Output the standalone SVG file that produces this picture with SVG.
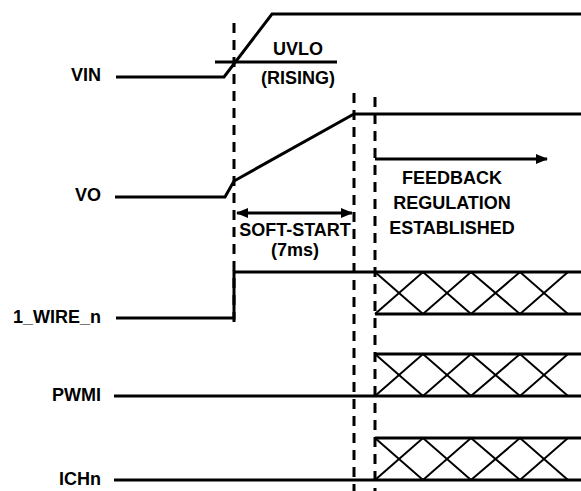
<svg xmlns="http://www.w3.org/2000/svg" width="581" height="491" viewBox="0 0 581 491">
<defs>
<style>
.lbl{font-family:"Liberation Sans",Arial,sans-serif;font-weight:bold;font-size:18px;fill:#000}
.sig{fill:none;stroke:#000;stroke-width:3}
.hatch{fill:none;stroke:#000;stroke-width:2}
.dash{fill:none;stroke:#000;stroke-width:3;stroke-dasharray:10,7}
.arr{fill:none;stroke:#000;stroke-width:3}
</style>
<marker id="ah" viewBox="0 0 12 10" refX="11" refY="5" markerWidth="12" markerHeight="10" markerUnits="userSpaceOnUse" orient="auto-start-reverse">
<path d="M0,0 L12,5 L0,10 Z" fill="#000"/>
</marker>
</defs>
<rect width="581" height="491" fill="#fff"/>

<g id="labels">
<text class="lbl" x="101" y="81" text-anchor="end">VIN</text>
<text class="lbl" x="101" y="201" text-anchor="end">VO</text>
<text class="lbl" x="101" y="323" text-anchor="end">1_WIRE_n</text>
<text class="lbl" x="101" y="401" text-anchor="end">PWMI</text>
<text class="lbl" x="101" y="485" text-anchor="end">ICHn</text>
</g>

<g id="vin">
<polyline class="sig" points="116,77 224,77 272,14 581,14"/>
<line class="sig" x1="215" y1="62" x2="337" y2="62"/>
<text class="lbl" x="298" y="55" text-anchor="middle">UVLO</text>
<text class="lbl" x="298" y="84" text-anchor="middle">(RISING)</text>
</g>

<g id="vo">
<polyline class="sig" points="115,197 225,197 234,181 354,114 581,114"/>
</g>

<g id="wire1">
<polyline class="sig" points="116,318 234,318 234,272 581,272"/>
<line class="sig" x1="375" y1="314" x2="581" y2="314"/>
<polyline class="hatch" points="375,272 423,314 471,272 520,314 568,272"/>
<polyline class="hatch" points="375,314 423,272 471,314 520,272 568,314"/>
</g>

<g id="pwmi">
<line class="sig" x1="114" y1="396" x2="581" y2="396"/>
<line class="sig" x1="375" y1="354" x2="581" y2="354"/>
<polyline class="hatch" points="375,354 423,396 471,354 520,396 568,354"/>
<polyline class="hatch" points="375,396 423,354 471,396 520,354 568,396"/>
</g>

<g id="ichn">
<line class="sig" x1="114" y1="480" x2="581" y2="480"/>
<line class="sig" x1="375" y1="438" x2="581" y2="438"/>
<polyline class="hatch" points="375,438 423,480 471,438 520,480 568,438"/>
<polyline class="hatch" points="375,480 423,438 471,480 520,438 568,480"/>
</g>

<g id="connectors">
<line class="dash" x1="234" y1="23" x2="234" y2="328"/>
<line class="dash" x1="354" y1="93" x2="354" y2="491"/>
<line class="dash" x1="375" y1="97" x2="375" y2="491"/>
<line class="arr" x1="237" y1="213" x2="352" y2="213" marker-start="url(#ah)" marker-end="url(#ah)"/>
<line class="arr" x1="375" y1="159" x2="547" y2="159" marker-end="url(#ah)"/>
</g>

<g id="annotations">
<text class="lbl" x="295" y="236" text-anchor="middle">SOFT-START</text>
<text class="lbl" x="295" y="256" text-anchor="middle">(7ms)</text>
<text class="lbl" x="452" y="184" text-anchor="middle">FEEDBACK</text>
<text class="lbl" x="452" y="209" text-anchor="middle">REGULATION</text>
<text class="lbl" x="452" y="234" text-anchor="middle">ESTABLISHED</text>
</g>
</svg>
